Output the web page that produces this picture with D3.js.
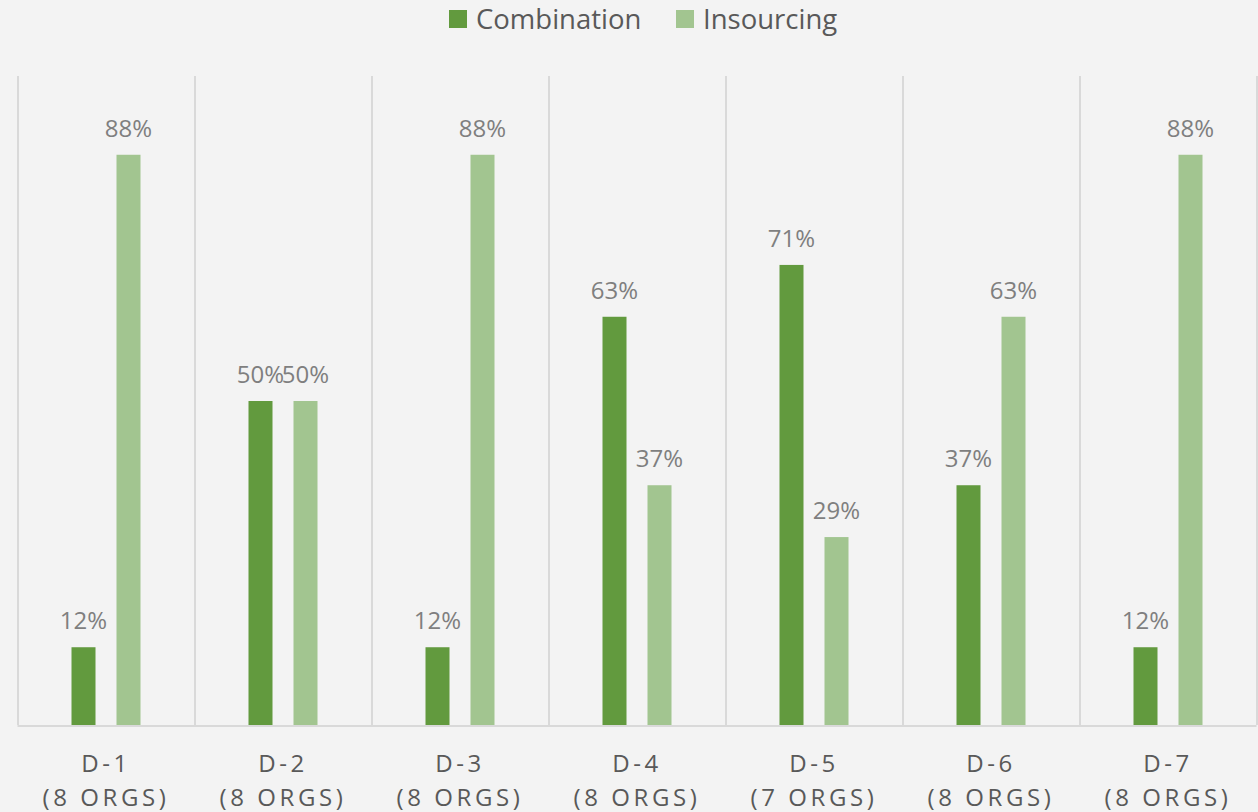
<!DOCTYPE html>
<html>
<head>
<meta charset="utf-8">
<script src="https://cdn.jsdelivr.net/npm/d3@7"></script>
<style>
  html, body { margin: 0; padding: 0; background: #f3f3f3; }
  svg { display: block; font-family: "Open Sans", "Noto Sans", sans-serif; }
</style>
</head>
<body>
<svg id="chart" width="1258" height="812"></svg>
<script>
// Share of organizations per deployment group
const categories = ["D-1", "D-2", "D-3", "D-4", "D-5", "D-6", "D-7"];
const orgCounts = ["(8 ORGS)", "(8 ORGS)", "(8 ORGS)", "(8 ORGS)", "(7 ORGS)", "(8 ORGS)", "(8 ORGS)"];
const seriesNames = ["Combination", "Insourcing"];
const combination = [12, 50, 12, 63, 71, 37, 12];
const insourcing = [88, 50, 88, 37, 29, 63, 88];
const seriesColors = ["#629a3e", "#a2c590"];

const svg = d3.select("#chart");
const W = 1258, H = 812;
const plotLeft = 17.5, plotRight = 1256.5, plotTop = 77, plotBottom = 725;

svg.append("rect").attr("width", W).attr("height", H).attr("fill", "#f3f3f3");

const x0 = d3.scaleBand().domain(categories).range([plotLeft, plotRight]).padding(0);
const groupW = 69;
const x1 = d3.scaleBand().domain(seriesNames)
  .range([(x0.bandwidth() - groupW) / 2, (x0.bandwidth() + groupW) / 2])
  .paddingInner(21 / 45).paddingOuter(0);
const y = d3.scaleLinear().domain([0, 100]).range([plotBottom, plotTop]);

// vertical separators between categories
const seps = categories.map(c => x0(c)).concat([x0.range()[1]]);
svg.append("g").selectAll("line").data(seps).join("line")
  .attr("x1", d => Math.round(d)).attr("x2", d => Math.round(d))
  .attr("y1", plotTop - 1).attr("y2", plotBottom)
  .attr("stroke", "#d9d9d9").attr("stroke-width", 2);

// baseline
svg.append("line")
  .attr("x1", plotLeft).attr("x2", plotRight)
  .attr("y1", plotBottom + 1).attr("y2", plotBottom + 1)
  .attr("stroke", "#d9d9d9").attr("stroke-width", 2);

const rows = categories.map((c, i) => ({
  cat: c,
  vals: [
    { s: seriesNames[0], v: combination[i], color: seriesColors[0] },
    { s: seriesNames[1], v: insourcing[i], color: seriesColors[1] }
  ]
}));

const groups = svg.append("g").selectAll("g").data(rows).join("g")
  .attr("transform", d => `translate(${x0(d.cat)},0)`);

groups.selectAll("rect").data(d => d.vals).join("rect")
  .attr("x", d => x1(d.s))
  .attr("width", x1.bandwidth())
  .attr("y", d => y(d.v))
  .attr("height", d => y(0) - y(d.v))
  .attr("fill", d => d.color);

groups.selectAll("text.val").data(d => d.vals).join("text")
  .attr("class", "val")
  .attr("x", d => x1(d.s) + x1.bandwidth() / 2)
  .attr("y", d => y(d.v) - 18)
  .attr("text-anchor", "middle")
  .attr("fill", "#7f7f7f")
  .attr("font-size", 24)
  .text(d => d.v + "%");

// category labels (two lines, letter-spaced)
const axis = svg.append("g").selectAll("g").data(categories).join("g")
  .attr("transform", c => `translate(${x0(c) + x0.bandwidth() / 2},0)`);
axis.append("text")
  .attr("y", 772).attr("text-anchor", "middle")
  .attr("fill", "#595959").attr("font-size", 24).attr("letter-spacing", 3.6)
  .text(c => c);
axis.append("text")
  .attr("y", 806).attr("text-anchor", "middle")
  .attr("fill", "#595959").attr("font-size", 24).attr("letter-spacing", 3.6)
  .text((c, i) => orgCounts[i]);

// legend
const legendItems = [
  { name: seriesNames[0], color: seriesColors[0], x: 449 },
  { name: seriesNames[1], color: seriesColors[1], x: 676 }
];
const lg = svg.append("g").selectAll("g").data(legendItems).join("g")
  .attr("transform", d => `translate(${d.x},10)`);
lg.append("rect").attr("width", 18).attr("height", 18).attr("fill", d => d.color);
lg.append("text").attr("x", 27).attr("y", 18).attr("dy", "0.02em")
  .attr("fill", "#595959").attr("font-size", 27.5)
  .text(d => d.name);
</script>
</body>
</html>
